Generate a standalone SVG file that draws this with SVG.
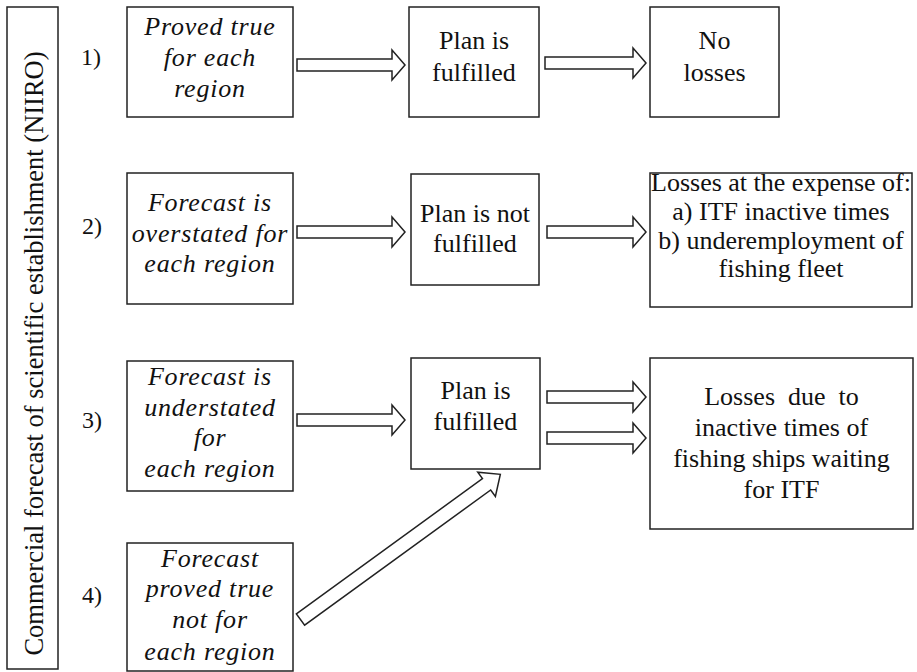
<svg xmlns="http://www.w3.org/2000/svg" width="917" height="672" viewBox="0 0 917 672" font-family="'Liberation Serif', 'Times New Roman', 'DejaVu Serif', serif">
<style>
.box{fill:#fff;stroke:#222;stroke-width:1.5}
.arr{fill:#fff;stroke:#222;stroke-width:1.5;stroke-linejoin:miter}
text{font-family:'Liberation Serif','Times New Roman','DejaVu Serif',serif;font-size:26px;fill:#111;text-anchor:middle}
.it{font-style:italic;letter-spacing:0.8px}
.num{font-size:24px;text-anchor:start}
.side{font-size:26.5px}
</style>
<rect width="917" height="672" fill="#fff"/>
<g id="side">
<rect class="box" x="7" y="7" width="51" height="662"/>
<text class="side" transform="translate(43 353.5) rotate(-90)">Commercial forecast of scientific establishment (NIIRO)</text>
</g>
<g id="labels">
<text class="num" x="81" y="65">1)</text>
<text class="num" x="82" y="234">2)</text>
<text class="num" x="82" y="428">3)</text>
<text class="num" x="82" y="603">4)</text>
</g>
<g id="n1">
<rect class="box" x="127" y="7" width="166" height="110"/>
<text class="it" x="210" y="35">Proved true</text>
<text class="it" x="210" y="66">for each</text>
<text class="it" x="210" y="97">region</text>
</g>
<g id="n2">
<rect class="box" x="409" y="7" width="130" height="110"/>
<text x="474" y="49">Plan is</text>
<text x="474" y="81">fulfilled</text>
</g>
<g id="n3">
<rect class="box" x="650" y="7" width="129" height="110"/>
<text x="714.5" y="49">No</text>
<text x="714.5" y="81">losses</text>
</g>
<g id="n4">
<rect class="box" x="127" y="173" width="166" height="131"/>
<text class="it" x="210" y="211">Forecast is</text>
<text class="it" x="210" y="242">overstated for</text>
<text class="it" x="210" y="272">each region</text>
</g>
<g id="n5">
<rect class="box" x="411" y="174" width="128" height="111"/>
<text x="475" y="222">Plan is not</text>
<text x="475" y="252">fulfilled</text>
</g>
<g id="n6">
<rect class="box" x="650" y="173" width="262" height="134"/>
<text x="781" y="191">Losses at the expense of:</text>
<text x="781" y="220">a) ITF inactive times</text>
<text x="781" y="249">b) underemployment of</text>
<text x="781" y="277">fishing fleet</text>
</g>
<g id="n7">
<rect class="box" x="127" y="361" width="166" height="130"/>
<text class="it" x="210" y="385">Forecast is</text>
<text class="it" x="210" y="415.5">understated</text>
<text class="it" x="210" y="446">for</text>
<text class="it" x="210" y="476.5">each region</text>
</g>
<g id="n8">
<rect class="box" x="411" y="358" width="129" height="111"/>
<text x="475.5" y="399">Plan is</text>
<text x="475.5" y="430">fulfilled</text>
</g>
<g id="n9">
<rect class="box" x="650" y="358" width="263" height="171"/>
<text x="781.5" y="405">Losses&#160; due&#160; to</text>
<text x="781.5" y="436">inactive times of</text>
<text x="781.5" y="467">fishing ships waiting</text>
<text x="781.5" y="498">for ITF</text>
</g>
<g id="n10">
<rect class="box" x="127" y="543" width="166" height="128"/>
<text class="it" x="210" y="567">Forecast</text>
<text class="it" x="210" y="597">proved true</text>
<text class="it" x="210" y="628">not for</text>
<text class="it" x="210" y="660">each region</text>
</g>
<g id="connectors">
<polygon class="arr" points="297,59 392,59 392,50 405,65 392,80 392,71 297,71"/>
<polygon class="arr" points="545,57 633,57 633,48 646,63 633,78 633,69 545,69"/>
<polygon class="arr" points="297,226 392,226 392,217 405,232 392,247 392,238 297,238"/>
<polygon class="arr" points="547,226 633,226 633,217 646,232 633,247 633,238 547,238"/>
<polygon class="arr" points="297,414 392,414 392,405 405,420 392,435 392,426 297,426"/>
<polygon class="arr" points="547,391 633,391 633,382 646,397 633,412 633,403 547,403"/>
<polygon class="arr" points="547,432 633,432 633,423 646,438 633,453 633,444 547,444"/>
<polygon class="arr" transform="translate(300.5 619.5) rotate(-36)" points="0,-7 230,-7 230,-15 247,0 230,15 230,7 0,7"/>
</g>
</svg>
